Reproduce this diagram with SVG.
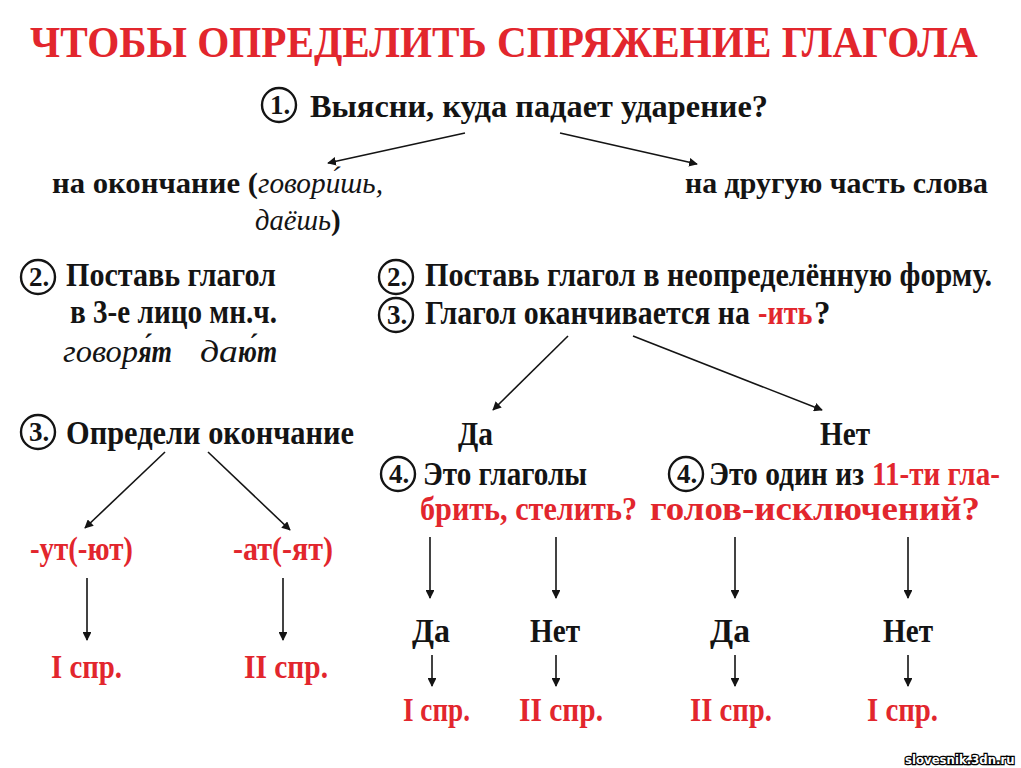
<svg xmlns="http://www.w3.org/2000/svg" width="1021" height="768" viewBox="0 0 1021 768">
<defs>
<style>
.t{font-family:"Liberation Serif","Times New Roman",serif;font-weight:bold;fill:#141414;font-size:33px}
.r{fill:#e2262d}
.i{font-style:italic;font-weight:normal}
.bi{font-style:italic;font-weight:bold}
.c{fill:none;stroke:#141414;stroke-width:2.4}
.n{font-family:"Liberation Serif","Times New Roman",serif;font-weight:bold;font-size:27px;text-anchor:middle;fill:#141414}
.a{stroke:#141414;stroke-width:1.6;fill:none;marker-end:url(#ah)}
.w{font-family:"DejaVu Sans",sans-serif;font-weight:bold;font-size:13px;fill:#fff;stroke:#000;stroke-width:2.5px;paint-order:stroke}
</style>
<marker id="ah" viewBox="0 0 10 10" refX="9" refY="5" markerWidth="5.5" markerHeight="5.5" orient="auto" markerUnits="strokeWidth">
<path d="M0,0 L10,5 L0,10 z" fill="#141414"/>
</marker>
</defs>
<rect width="1021" height="768" fill="#ffffff"/>

<g id="title"><text class="t r" transform="translate(30,57) scale(0.88,1)" x="0" y="0" style="font-size:45px" textLength="1077" lengthAdjust="spacingAndGlyphs">ЧТОБЫ ОПРЕДЕЛИТЬ СПРЯЖЕНИЕ ГЛАГОЛА</text></g>

<g id="q1">
<circle class="c" cx="279" cy="105" r="17"/><text class="n" x="280" y="114">1.</text>
<text class="t" x="310" y="117" style="font-size:31px" textLength="458" lengthAdjust="spacingAndGlyphs">Выясни, куда падает ударение?</text>
</g>

<g id="ending">
<text class="t" x="52" y="193" style="font-size:29px" textLength="206" lengthAdjust="spacingAndGlyphs">на окончание (</text>
<text class="t i" x="258" y="193" style="font-size:29px" textLength="125" lengthAdjust="spacingAndGlyphs">говори́шь,</text>
<text class="t i" x="255" y="230" style="font-size:29px" textLength="76" lengthAdjust="spacingAndGlyphs">даёшь</text>
<text class="t" x="331" y="230" style="font-size:29px">)</text>
</g>

<g id="other">
<text class="t" x="685" y="193" style="font-size:29px" textLength="303" lengthAdjust="spacingAndGlyphs">на другую часть слова</text>
</g>

<g id="left2">
<circle class="c" cx="38" cy="277" r="17"/><text class="n" x="39" y="286">2.</text>
<text class="t" x="66" y="286" textLength="210" lengthAdjust="spacingAndGlyphs">Поставь глагол</text>
<text class="t" x="70" y="323" textLength="207" lengthAdjust="spacingAndGlyphs">в 3-е лицо мн.ч.</text>
<text class="t i" x="63" y="362" style="font-size:31px" textLength="75" lengthAdjust="spacingAndGlyphs">говор</text>
<text class="t bi" x="138" y="362" style="font-size:31px" textLength="34" lengthAdjust="spacingAndGlyphs">я́т</text>
<text class="t i" x="200" y="362" style="font-size:31px" textLength="38" lengthAdjust="spacingAndGlyphs">да</text>
<text class="t bi" x="238" y="362" style="font-size:31px" textLength="39" lengthAdjust="spacingAndGlyphs">ю́т</text>
</g>

<g id="right2">
<circle class="c" cx="396" cy="277" r="17"/><text class="n" x="397" y="286">2.</text>
<text class="t" transform="translate(425,286) scale(0.9,1)" x="0" y="0" textLength="630" lengthAdjust="spacingAndGlyphs">Поставь глагол в неопределённую форму.</text>
</g>

<g id="right3">
<circle class="c" cx="396" cy="315" r="17"/><text class="n" x="397" y="324">3.</text>
<text class="t" transform="translate(425,324) scale(0.9,1)" x="0" y="0" textLength="361" lengthAdjust="spacingAndGlyphs">Глагол оканчивается на</text>
<text class="t r" transform="translate(758,324) scale(0.85,1)" x="0" y="0" textLength="64" lengthAdjust="spacingAndGlyphs">-ить</text>
<text class="t" x="814" y="324">?</text>
</g>

<g id="yes1"><text class="t" x="458" y="445" textLength="35" lengthAdjust="spacingAndGlyphs">Да</text></g>
<g id="no1"><text class="t" x="820" y="445" textLength="50" lengthAdjust="spacingAndGlyphs">Нет</text></g>

<g id="left3">
<circle class="c" cx="38" cy="432" r="17"/><text class="n" x="39" y="441">3.</text>
<text class="t" x="66" y="444" textLength="288" lengthAdjust="spacingAndGlyphs">Определи окончание</text>
</g>

<g id="ut"><text class="t r" x="30" y="560" textLength="103" lengthAdjust="spacingAndGlyphs">-ут(-ют)</text></g>
<g id="at"><text class="t r" x="233" y="560" textLength="100" lengthAdjust="spacingAndGlyphs">-ат(-ят)</text></g>
<g id="spr1a"><text class="t r" x="51" y="678" textLength="71" lengthAdjust="spacingAndGlyphs">I спр.</text></g>
<g id="spr2a"><text class="t r" x="244" y="678" textLength="84" lengthAdjust="spacingAndGlyphs">II спр.</text></g>

<g id="q4a">
<circle class="c" cx="398" cy="474" r="17"/><text class="n" x="399" y="483">4.</text>
<text class="t" x="423" y="485" textLength="164" lengthAdjust="spacingAndGlyphs">Это глаголы</text>
<text class="t r" x="420" y="520" textLength="217" lengthAdjust="spacingAndGlyphs">брить, стелить?</text>
</g>

<g id="q4b">
<circle class="c" cx="686" cy="474" r="17"/><text class="n" x="687" y="483">4.</text>
<text class="t" x="709" y="485" textLength="155" lengthAdjust="spacingAndGlyphs">Это один из</text>
<text class="t r" x="872" y="485" textLength="128" lengthAdjust="spacingAndGlyphs">11-ти гла-</text>
<text class="t r" x="650" y="520" textLength="330" lengthAdjust="spacingAndGlyphs">голов-исключений?</text>
</g>

<g id="yes2"><text class="t" x="412" y="642" textLength="38" lengthAdjust="spacingAndGlyphs">Да</text></g>
<g id="no2"><text class="t" x="530" y="642" textLength="50" lengthAdjust="spacingAndGlyphs">Нет</text></g>
<g id="yes3"><text class="t" x="710" y="642" textLength="40" lengthAdjust="spacingAndGlyphs">Да</text></g>
<g id="no3"><text class="t" x="883" y="642" textLength="50" lengthAdjust="spacingAndGlyphs">Нет</text></g>

<g id="spr1b"><text class="t r" x="403" y="721" textLength="67" lengthAdjust="spacingAndGlyphs">I спр.</text></g>
<g id="spr2b"><text class="t r" x="519" y="721" textLength="84" lengthAdjust="spacingAndGlyphs">II спр.</text></g>
<g id="spr2c"><text class="t r" x="690" y="721" textLength="82" lengthAdjust="spacingAndGlyphs">II спр.</text></g>
<g id="spr1c"><text class="t r" x="867" y="721" textLength="71" lengthAdjust="spacingAndGlyphs">I спр.</text></g>

<g id="connectors">
<line class="a" x1="465" y1="133" x2="328" y2="163"/>
<line class="a" x1="560" y1="133" x2="697" y2="164"/>
<line class="a" x1="568" y1="336" x2="493" y2="410"/>
<line class="a" x1="633" y1="336" x2="822" y2="410"/>
<line class="a" x1="165" y1="452" x2="85" y2="528"/>
<line class="a" x1="208" y1="452" x2="290" y2="530"/>
<line class="a" x1="87" y1="578" x2="87" y2="640"/>
<line class="a" x1="283" y1="578" x2="283" y2="640"/>
<line class="a" x1="430" y1="537" x2="430" y2="598"/>
<line class="a" x1="556" y1="537" x2="556" y2="598"/>
<line class="a" x1="735" y1="537" x2="735" y2="598"/>
<line class="a" x1="908" y1="537" x2="908" y2="598"/>
<line class="a" x1="432" y1="655" x2="432" y2="686"/>
<line class="a" x1="556" y1="655" x2="556" y2="686"/>
<line class="a" x1="735" y1="655" x2="735" y2="686"/>
<line class="a" x1="908" y1="655" x2="908" y2="686"/>
</g>

<g id="watermark"><text class="w" transform="translate(905,764) scale(0.8,1)" x="0" y="0" textLength="137" lengthAdjust="spacingAndGlyphs">slovesnik.3dn.ru</text></g>
</svg>
